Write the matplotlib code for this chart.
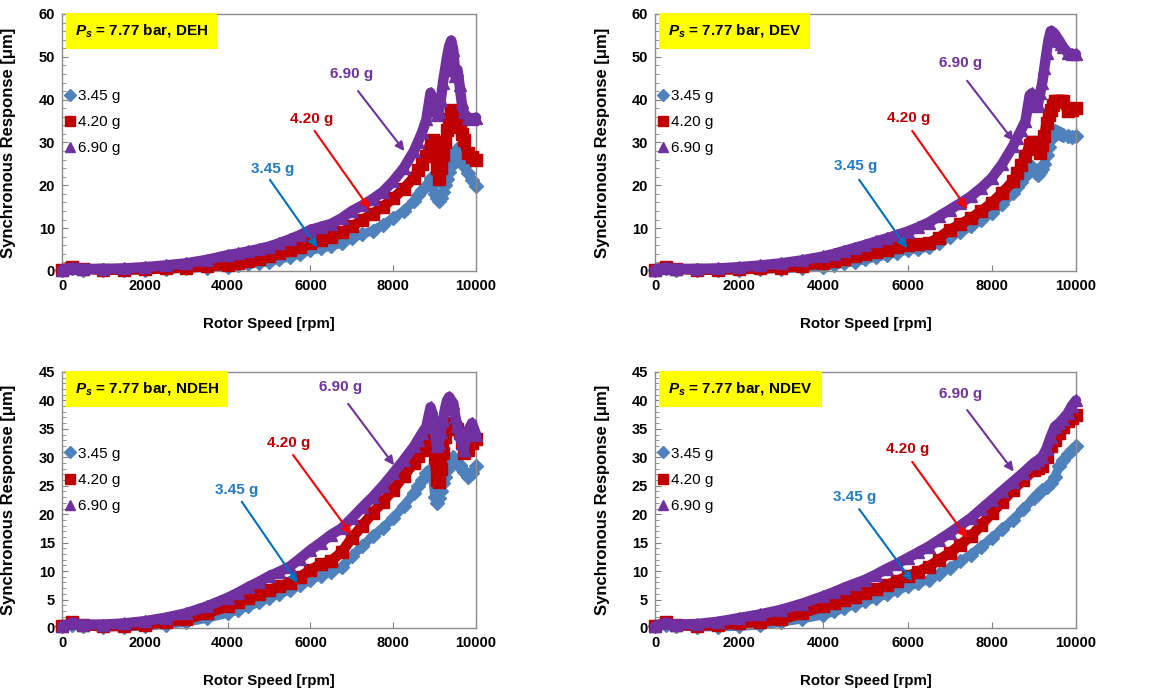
import matplotlib
matplotlib.use('Agg')
import matplotlib.pyplot as plt
from matplotlib.lines import Line2D
from matplotlib.ticker import MultipleLocator

plt.rcParams['font.family'] = ['Liberation Sans', 'DejaVu Sans']
plt.rcParams['mathtext.fontset'] = 'custom'
plt.rcParams['mathtext.it'] = 'Liberation Sans:italic:bold'
plt.rcParams['mathtext.rm'] = 'Liberation Sans:bold'

# rotor speed grid [rpm] used for DEH, DEV, NDEH readings
speed = [0, 250, 500, 1000, 1500, 2000, 2500, 3000, 3500, 4000,
         4250, 4500, 4750, 5000, 5250, 5500, 5750, 6000,
         6250, 6500, 6750, 7000, 7250, 7500, 7750, 8000, 8250, 8500,
         8600, 8700, 8800, 8900,
         8950, 9000, 9050, 9100, 9150, 9200, 9250, 9300, 9350, 9400, 9450, 9500, 9550, 9600, 9650, 9700,
         9800, 9900, 10000]

# DEH
deh_345 = [0.3, 0.6, 0.3, 0.2, 0.2, 0.3, 0.4, 0.6, 0.8, 1.0,
           1.3, 1.6, 1.9, 2.2, 2.7, 3.3, 4.0, 4.8,
           5.3, 5.8, 6.5, 7.7, 8.6, 9.4, 10.8, 12.3, 14.0, 16.3,
           17.8, 18.8, 19.8, 21.7,
           20.0, 18.0, 17.0, 16.3, 17.0, 18.5, 20.0, 21.5, 23.0, 24.5, 26.0, 27.5, 28.5, 27.0, 25.5, 24.5,
           22.8, 21.2, 19.8]
deh_420 = [0.3, 1.0, 0.5, 0.3, 0.3, 0.4, 0.6, 0.8, 1.1, 1.4,
           1.8, 2.3, 2.8, 3.4, 4.1, 4.9, 5.7, 6.5,
           7.2, 7.9, 9.0, 10.4, 11.9, 13.4, 15.0, 17.0, 19.2, 21.8,
           23.5, 25.0, 26.8, 30.0,
           30.5, 28.0, 24.0, 21.5, 24.0, 27.0, 30.0, 33.0, 35.5, 37.0, 37.5, 37.0, 35.5, 33.5, 32.0, 30.5,
           27.5, 26.5, 26.0]
deh_690 = [0.3, 0.8, 0.5, 0.5, 0.6, 0.9, 1.3, 1.8, 2.6, 3.7,
           4.1, 4.6, 5.1, 5.7, 6.5, 7.4, 8.4, 9.6,
           10.3, 11.0, 12.3, 14.0, 15.3, 16.8, 18.5, 21.0, 24.0, 28.0,
           30.2, 32.5, 35.4, 41.6,
           40.0, 38.5, 36.5, 37.0, 40.0, 44.0, 47.0, 50.0, 52.5, 53.8, 51.5, 45.5, 47.0, 43.5, 39.5, 37.0,
           35.8, 35.5, 35.8]

# DEV
dev_345 = [0.3, 0.6, 0.3, 0.2, 0.2, 0.3, 0.4, 0.5, 0.7, 1.0,
           1.4, 1.8, 2.2, 2.7, 3.2, 3.7, 4.3, 4.9,
           5.2, 5.5, 6.5, 7.9, 9.1, 10.4, 11.9, 13.5, 15.7, 18.2,
           19.5, 20.8, 22.1, 23.8,
           24.3, 23.5, 22.9, 22.5, 23.0, 23.7, 25.0, 27.0, 29.0, 30.7, 31.8, 32.7, 32.5, 32.3, 32.0, 31.8,
           31.5, 31.3, 31.5]
dev_420 = [0.3, 1.0, 0.5, 0.3, 0.3, 0.4, 0.6, 0.8, 1.2, 1.8,
           2.3, 2.8, 3.4, 4.0, 4.5, 5.0, 5.6, 6.1,
           6.4, 6.5, 7.8, 9.6, 10.9, 12.3, 14.0, 15.9, 18.3, 20.9,
           22.8, 24.8, 26.8, 29.5,
           30.0, 30.0, 29.8, 28.5, 27.6, 29.5, 31.5, 34.6, 36.5, 37.7, 38.8, 39.7, 39.8, 39.8, 39.7, 39.6,
           37.3, 37.5, 38.1]
dev_690 = [0.3, 0.8, 0.5, 0.5, 0.6, 0.9, 1.3, 1.8, 2.5, 3.4,
           4.0, 4.7, 5.4, 6.1, 6.9, 7.6, 8.4, 9.2,
           10.2, 11.3, 12.8, 14.3, 15.8, 17.4, 19.4, 21.7, 25.0, 29.1,
           31.0, 33.0, 35.0, 41.0,
           41.5, 39.5, 38.5, 39.0, 41.5, 44.0, 47.5, 51.0, 54.0, 56.0, 55.8, 55.3, 54.5, 53.8, 53.0, 52.2,
           51.0, 50.6, 50.6]

# NDEH
ndeh_345 = [0.3, 0.6, 0.3, 0.2, 0.2, 0.3, 0.6, 1.0, 1.7, 2.6,
            3.2, 3.8, 4.5, 5.3, 6.0, 6.7, 7.5, 8.5,
            9.2, 9.9, 10.7, 12.6, 14.4, 16.1, 17.6, 19.3, 21.4, 23.7,
            24.9, 26.0, 27.2, 28.0,
            26.5, 23.1, 21.9, 22.8, 24.0, 25.4, 26.6, 27.8, 28.5, 29.0, 30.1, 29.5, 29.0, 28.7, 28.0, 27.5,
            26.6, 27.2, 28.4]
ndeh_420 = [0.3, 1.0, 0.5, 0.3, 0.4, 0.6, 1.0, 1.5, 2.6, 3.8,
            4.5, 5.2, 5.9, 6.7, 7.3, 7.9, 9.0, 10.2,
            11.2, 11.8, 13.3, 15.8, 18.0, 20.2, 22.2, 24.3, 26.7, 29.0,
            30.2, 31.3, 32.5, 34.2,
            33.0, 30.1, 26.0, 25.7, 28.0, 30.7, 33.5, 35.4, 36.0, 36.0, 35.8, 35.4, 35.0, 34.2, 32.5, 30.7,
            31.3, 32.5, 33.3]
ndeh_690 = [0.3, 0.9, 0.6, 0.6, 0.8, 1.2, 1.8, 2.6, 3.8, 5.3,
            6.2, 7.2, 8.1, 9.1, 9.9, 10.8, 12.2, 13.7,
            15.0, 16.4, 17.5, 19.3, 21.2, 23.0, 25.0, 27.2, 29.5, 31.9,
            33.1, 34.3, 35.4, 38.8,
            37.5, 35.4, 31.9, 32.5, 34.5, 36.5, 38.5, 40.0, 40.6, 40.0, 39.5, 37.1, 35.5, 34.2, 32.5, 31.3,
            34.5, 36.0, 34.0]

# NDEV (smoother curves, own speed grid)
speed_ndev = [0, 250, 500, 1000, 1500, 2000, 2500, 3000, 3500, 4000,
              4250, 4500, 4750, 5000, 5250, 5500, 5750, 6000, 6250, 6500,
              6750, 7000, 7250, 7500, 7750, 8000, 8250, 8500, 8750, 9000,
              9100, 9200, 9300, 9400, 9500, 9600, 9700, 9800, 9900, 10000]
ndev_345 = [0.3, 0.6, 0.3, 0.2, 0.2, 0.3, 0.5, 1.0, 1.6, 2.3,
            2.9, 3.5, 4.1, 4.7, 5.3, 5.9, 6.6, 7.3, 7.9, 8.5,
            9.5, 10.5, 11.7, 12.9, 14.3, 15.8, 17.4, 19.0, 20.9, 22.8,
            23.5, 24.3, 24.8, 25.4, 26.6, 28.4, 29.5, 30.5, 31.2, 31.9]
ndev_420 = [0.3, 1.0, 0.5, 0.4, 0.5, 0.8, 1.1, 1.5, 2.6, 3.8,
            4.4, 4.9, 5.5, 6.1, 6.8, 7.5, 8.3, 9.1, 9.9, 10.8,
            12.0, 13.2, 14.6, 16.1, 18.1, 20.2, 22.2, 24.3, 26.0, 27.8,
            28.1, 28.4, 30.0, 31.9, 33.0, 34.2, 35.3, 36.3, 36.9, 37.4]
ndev_690 = [0.3, 0.9, 0.6, 0.7, 1.1, 1.75, 2.4, 3.2, 4.3, 5.6,
            6.3, 7.1, 7.8, 8.5, 9.4, 10.4, 11.3, 12.3, 13.3, 14.3,
            15.5, 16.7, 18.0, 19.3, 20.9, 22.5, 24.1, 25.7, 27.3, 29.0,
            29.5, 30.1, 31.5, 33.6, 35.4, 36.0, 36.8, 37.7, 39.0, 40.0]

series_labels = ['3.45 g', '4.20 g', '6.90 g']
panel_titles = ['DEH', 'DEV', 'NDEH', 'NDEV']

colors = ['#4F81BD', '#C00000', '#7030A0']
markers = ['D', 's', '^']
msizes = [7, 8, 8.5]
band_lw = [6.5, 7.5, 7.5]
leg_msizes = [6, 7, 7.5]
note_text_colors = ['#1F7AC8', '#C00000', '#7030A0']
arrow_colors = ['#0070C0', '#FF0000', '#7030A0']

panels = [
    (speed, [deh_345, deh_420, deh_690], 60, 2),
    (speed, [dev_345, dev_420, dev_690], 60, 2),
    (speed, [ndeh_345, ndeh_420, ndeh_690], 45, 1),
    (speed_ndev, [ndev_345, ndev_420, ndev_690], 45, 1),
]

axes_pos = [
    [0.0538, 0.6084, 0.3591, 0.3714],
    [0.5681, 0.6084, 0.3651, 0.3714],
    [0.0538, 0.0925, 0.3591, 0.3700],
    [0.5681, 0.0925, 0.3651, 0.3700],
]

# annotation layout: (text xy, arrow tail, arrow tip) per series
notes = [
    [((5080, 23.9), (5020, 21.3), (6170, 5.5)),
     ((6020, 35.4), (6100, 32.7), (7430, 14.5)),
     ((6990, 45.9), (7150, 42.0), (8270, 28.0))],
    [((4770, 24.5), (4850, 21.3), (5990, 5.3)),
     ((6030, 35.6), (6110, 32.7), (7415, 14.5)),
     ((7260, 48.5), (7415, 44.4), (8520, 30.3))],
    [((4220, 24.3), (4340, 22.2), (5690, 7.9)),
     ((5480, 32.6), (5580, 30.4), (6990, 16.4)),
     ((6730, 42.4), (6910, 39.4), (8020, 28.6))],
    [((4730, 23.1), (4850, 20.9), (6110, 8.2)),
     ((5990, 31.4), (6110, 29.2), (7415, 15.8)),
     ((7260, 41.2), (7415, 38.3), (8520, 27.5))],
]

fig = plt.figure(figsize=(11.53, 6.92), dpi=100)
fig.patch.set_facecolor('white')

for k, (xs, ys_list, ymax, minor) in enumerate(panels):
    ax = fig.add_axes(axes_pos[k])
    for i, ys in enumerate(ys_list):
        ax.plot(xs, ys, color=colors[i], lw=band_lw[i], marker=markers[i], ms=msizes[i],
                mec=colors[i], mfc=colors[i], clip_on=False, zorder=2 + i,
                solid_joinstyle='round', solid_capstyle='round')

    ax.set_xlim(0, 10000)
    ax.set_ylim(0, ymax)
    ax.xaxis.set_major_locator(MultipleLocator(2000))
    ax.yaxis.set_major_locator(MultipleLocator(10 if ymax == 60 else 5))
    ax.yaxis.set_minor_locator(MultipleLocator(minor))
    ax.tick_params(which='both', direction='in', color='#808080', labelsize=10.5)
    ax.tick_params(which='major', length=4)
    ax.tick_params(which='minor', length=3)
    ax.tick_params(axis='y', pad=5)
    ax.tick_params(axis='x', pad=6)
    ax.tick_params(axis='x', which='minor', bottom=False)
    for lab in ax.get_xticklabels() + ax.get_yticklabels():
        lab.set_fontweight('bold')
    for sp in ax.spines.values():
        sp.set_color('#8C8C8C')
        sp.set_linewidth(1)

    ax.set_xlabel('Rotor Speed [rpm]', fontsize=10.8, fontweight='bold')
    ax.set_ylabel('Synchronous Response [\u03bcm]', fontsize=12, fontweight='bold')
    ax.xaxis.set_label_coords(0.5, -0.178)
    ax.yaxis.set_label_coords(-0.112 if k % 2 == 0 else -0.106, 0.5)

    ax.text(0.031, 0.934, r'$P_s$ = 7.77 bar, ' + panel_titles[k], transform=ax.transAxes,
            fontsize=11, fontweight='bold', ha='left', va='center', zorder=10,
            bbox=dict(boxstyle='square,pad=0.6', facecolor='#FFFF00', edgecolor='none'))

    handles = [Line2D([], [], ls='none', marker=markers[i], ms=leg_msizes[i],
                      color=colors[i]) for i in range(3)]
    ax.legend(handles, series_labels, loc='upper left', bbox_to_anchor=(0.0, 0.72),
              frameon=False, fontsize=11, handlelength=0.7, handletextpad=0.15,
              labelspacing=0.8, borderpad=0.2, borderaxespad=0.0)

    for i, (txy, tail, tip) in enumerate(notes[k]):
        ax.text(txy[0], txy[1], series_labels[i], color=note_text_colors[i],
                fontsize=11, fontweight='bold', ha='center', va='center', zorder=10)
        ax.annotate('', xy=tip, xytext=tail, zorder=10,
                    arrowprops=dict(arrowstyle='-|>', color=arrow_colors[i], lw=1.5,
                                    mutation_scale=13, shrinkA=0, shrinkB=0))

fig.savefig('out.png', dpi=100)
